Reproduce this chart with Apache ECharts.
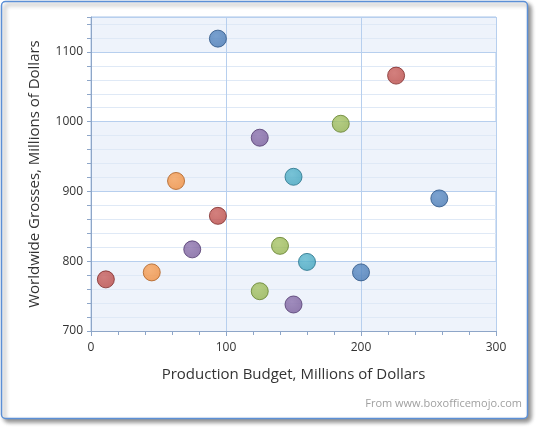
<!DOCTYPE html>
<html><head><meta charset="utf-8">
<script src="https://cdn.jsdelivr.net/npm/echarts@6/dist/echarts.min.js"></script>
<style>html,body{margin:0;padding:0;background:#fff}#c{width:536px;height:427px}</style>
</head><body><div id="c"></div>
<script>
// Series: [production budget, worldwide gross] in millions of dollars
const blueSeries   = [[94, 1119], [258, 890], [200, 784]];
const redSeries    = [[226, 1066], [94, 865], [11, 774]];
const greenSeries  = [[185, 997], [140, 822], [125, 757]];
const purpleSeries = [[125, 977], [75, 817], [150, 738]];
const tealSeries   = [[150, 921], [160, 799]];
const orangeSeries = [[63, 915], [45, 784]];
const xAxisTitle = 'Production Budget, Millions of Dollars';
const yAxisTitle = 'Worldwide Grosses, Millions of Dollars';
const sourceNote = 'From www.boxofficemojo.com';

const palette = [
  {data: blueSeries,   fill: '#4677b2', light: '#5a8bc4', edge: '#2b5283'},
  {data: redSeries,    fill: '#b84845', light: '#c8605d', edge: '#7e2c2a'},
  {data: greenSeries,  fill: '#93b24f', light: '#a6c365', edge: '#637f2c'},
  {data: purpleSeries, fill: '#785c9a', light: '#8c72ad', edge: '#50386e'},
  {data: tealSeries,   fill: '#40a3bd', light: '#5ab6cd', edge: '#26728a'},
  {data: orangeSeries, fill: '#ef8c3c', light: '#f6a159', edge: '#ad5f22'}
];

const chart = echarts.init(document.getElementById('c'), null, {renderer: 'canvas'});
const font = '"Open Sans", "Noto Sans", sans-serif';
chart.setOption({
  animation: false,
  graphic: [{
    type: 'rect', z: -100,
    shape: {x: 1.5, y: 1.5, width: 526, height: 417, r: 4},
    style: {fill: '#fff', stroke: '#5b8fd6', lineWidth: 1.5,
            shadowBlur: 4, shadowOffsetX: 3, shadowOffsetY: 3, shadowColor: 'rgba(0,0,0,0.45)'}
  }, {
    type: 'text', right: 14, top: 398,
    style: {text: sourceNote, fill: '#a0a0a0', font: '11px ' + font}
  }],
  grid: {left: 91, right: 40, top: 17, bottom: 96, show: true, borderColor: '#a9c4e8', borderWidth: 1, backgroundColor: 'transparent'},
  xAxis: {
    type: 'value', min: 0, max: 300, interval: 100,
    name: xAxisTitle, nameLocation: 'middle', nameGap: 36,
    nameTextStyle: {fontFamily: font, fontSize: 15, color: '#333'},
    axisLine: {show: true, lineStyle: {color: '#8ea6c8'}},
    axisTick: {show: true, length: 5, lineStyle: {color: '#8ea6c8'}},
    minorTick: {show: true, splitNumber: 5, length: 4, lineStyle: {color: '#8ea6c8'}},
    axisLabel: {fontFamily: font, fontSize: 12, color: '#333', margin: 11},
    splitLine: {show: true, lineStyle: {color: '#b7cfee'}},
    minorSplitLine: {show: false}
  },
  yAxis: {
    type: 'value', min: 700, max: 1150, interval: 100,
    name: yAxisTitle, nameLocation: 'middle', nameGap: 49,
    nameTextStyle: {fontFamily: font, fontSize: 15, color: '#333'},
    axisLine: {show: true, lineStyle: {color: '#8ea6c8'}},
    axisTick: {show: true, length: 4, lineStyle: {color: '#8ea6c8'}},
    minorTick: {show: true, splitNumber: 5, length: 4, lineStyle: {color: '#8ea6c8'}},
    axisLabel: {fontFamily: font, fontSize: 12, color: '#333', margin: 8, showMaxLabel: false,
                formatter: v => String(v)},
    splitLine: {show: true, lineStyle: {color: '#b7cfee'}},
    minorSplitLine: {show: true, lineStyle: {color: '#dfe9f6'}},
    splitArea: {show: true, areaStyle: {color: ['#eef3fb', 'rgba(255,255,255,0)']}}
  },
  series: palette.map(p => ({
    type: 'scatter', data: p.data, symbol: 'circle', symbolSize: 17,
    itemStyle: {
      color: new echarts.graphic.RadialGradient(0.4, 0.35, 0.7, [
        {offset: 0, color: p.light}, {offset: 1, color: p.fill}
      ]),
      borderColor: p.edge, borderWidth: 1
    }
  }))
});
</script></body></html>
